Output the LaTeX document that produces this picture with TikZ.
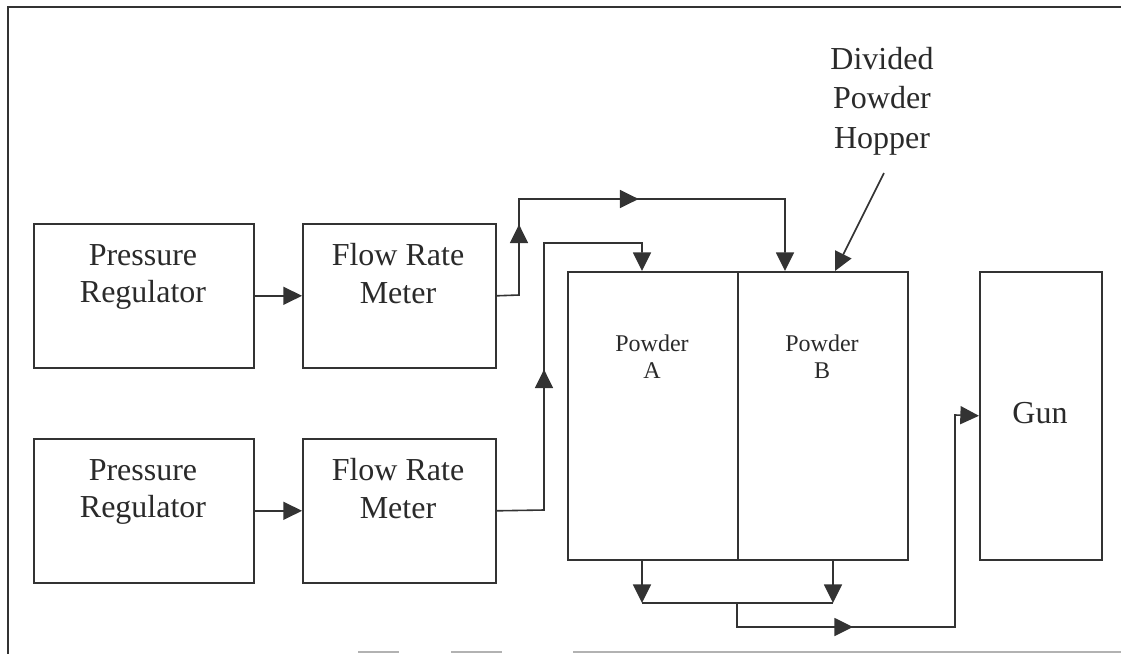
\documentclass[tikz,border=0pt]{standalone}
\usepackage{fontspec}
\setmainfont{Liberation Serif}
\usetikzlibrary{arrows.meta,decorations.markings}
\definecolor{ink}{HTML}{333333}
\definecolor{txtc}{HTML}{2A2A2A}
\tikzset{
  tri/.tip={Triangle[length=14pt,width=13.5pt]},
  box/.style={draw=ink, line width=1.2pt, inner sep=0pt, anchor=north west},
  bigtxt/.style={text=txtc, inner sep=0pt, align=center, font=\fontsize{24pt}{28pt}\selectfont},
  smalltxt/.style={text=txtc, inner sep=0pt, align=center, font=\fontsize{18pt}{20.25pt}\selectfont},
  wire/.style={draw=ink, line width=1.2pt},
  arr/.style={wire, -tri},
  mk/.style={postaction={decorate, decoration={markings, mark=at position #1 with {\arrow[ink]{tri}}}}},
  mkk/.style 2 args={postaction={decorate, decoration={markings, mark=at position #1 with {\arrow[ink]{tri}}, mark=at position #2 with {\arrow[ink]{tri}}}}}
}
\begin{document}
\begin{tikzpicture}[x=0.75pt, y=-0.75pt]
\useasboundingbox (0,0) rectangle (1121,654);
% frame
\draw[ink, line width=1.2pt] (1121,7) -- (8,7) -- (8,654);
\draw[black!30, line width=1.5pt] (358,652) -- (399,652) (451,652) -- (502,652) (573,652) -- (1121,652);

% boxes
\node[box, minimum width=165pt, minimum height=108pt] (pr1) at (33,223) {};
\node[box, minimum width=144.75pt, minimum height=108pt] (fr1) at (302,223) {};
\node[box, minimum width=165pt, minimum height=108pt] (pr2) at (33,438) {};
\node[box, minimum width=144.75pt, minimum height=108pt] (fr2) at (302,438) {};
\node[box, minimum width=127.5pt, minimum height=216pt] (ha) at (567,271) {};
\node[box, minimum width=127.5pt, minimum height=216pt] (hb) at (737,271) {};
\node[box, minimum width=91.5pt, minimum height=216pt] (gun) at (979,271) {};

% texts
\node[bigtxt] (pr1t) at (143,277) {Pressure\\Regulator};
\node[bigtxt] (fr1t) at (398,273.5) {Flow Rate\\Meter};
\node[bigtxt] (pr2t) at (143,492) {Pressure\\Regulator};
\node[bigtxt] (fr2t) at (398,488.5) {Flow Rate\\Meter};
\node[smalltxt] (hat) at (652,356.5) {Powder\\A};
\node[smalltxt] (hbt) at (822,356.5) {Powder\\B};
\node[bigtxt] (gunt) at (1040,413) {Gun};
\node[bigtxt, font=\fontsize{24pt}{29.6pt}\selectfont] (lbl) at (882,101) {Divided\\Powder\\Hopper};

% coordinates
\coordinate (p1) at (884,173);
\coordinate (p2) at (835,271);
\coordinate (a1) at (519,295);
\coordinate (a2) at (519,199);
\coordinate (a3) at (785,199);
\coordinate (a4) at (785,271);
\coordinate (b1) at (544,510);
\coordinate (b2) at (544,243);
\coordinate (b3) at (642,243);
\coordinate (b4) at (642,271);
\coordinate (c1) at (642,559);
\coordinate (c2) at (642,603);
\coordinate (c3) at (833,559);
\coordinate (c4) at (833,603);
\coordinate (d1) at (737,603);
\coordinate (d2) at (737,627);
\coordinate (d3) at (955,627);
\coordinate (d4) at (955,415);

% connectors
\draw[arr] (pr1.east) -- (fr1.west);
\draw[arr] (pr2.east) -- (fr2.west);
\draw[arr, mkk={69.75pt}{178.5pt}] (fr1.east) -- (a1) -- (a2) -- (a3) -- (a4);
\draw[arr, mk={141pt}] (fr2.east) -- (b1) -- (b2) -- (b3) -- (b4);
\draw[arr] (c1) -- (c2);
\draw[arr] (c3) -- (c4);
\draw[wire] (c2) -- (c4);
\draw[arr, mk={105pt}] (d1) -- (d2) -- (d3) -- (d4) -- (gun.west);
\draw[arr] (p1) -- (p2);
\end{tikzpicture}
\end{document}
